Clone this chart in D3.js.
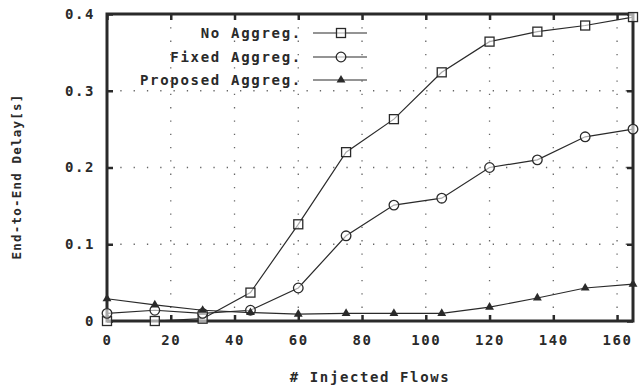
<!DOCTYPE html>
<html>
<head>
<meta charset="utf-8">
<script src="https://cdn.jsdelivr.net/npm/d3@7"></script>
<style>
  body { margin: 0; background: #fff; }
  text { font-family: "DejaVu Sans Mono", monospace; font-weight: bold; fill: #2a2a2a; }
</style>
</head>
<body>
<svg id="chart" width="643" height="389"></svg>
<script>
// data
const flows = [0, 15, 30, 45, 60, 75, 90, 105, 120, 135, 150, 165];
const noAggreg = [0.0, 0.0, 0.003, 0.037, 0.126, 0.220, 0.263, 0.324, 0.364, 0.377, 0.385, 0.396];
const fixedAggreg = [0.010, 0.014, 0.010, 0.014, 0.043, 0.111, 0.151, 0.160, 0.200, 0.210, 0.240, 0.250];
const proposedAggreg = [0.029, 0.021, 0.014, 0.011, 0.009, 0.010, 0.010, 0.010, 0.018, 0.030, 0.043, 0.048];
const seriesNames = ["No Aggreg.", "Fixed Aggreg.", "Proposed Aggreg."];
const markerTypes = ["square", "circle", "triangle"];
const xTicks = [0, 20, 40, 60, 80, 100, 120, 140, 160];
const yTicks = [0, 0.1, 0.2, 0.3, 0.4];

const series = [noAggreg, fixedAggreg, proposedAggreg].map((vals, i) => ({
  name: seriesNames[i],
  marker: markerTypes[i],
  points: vals.map((v, j) => ({ x: flows[j], y: v }))
}));

const margin = { top: 14, right: 10, bottom: 68, left: 107 };
const width = 643 - margin.left - margin.right;
const height = 389 - margin.top - margin.bottom;
const ink = "#2a2a2a";

const svg = d3.select("#chart");
const g = svg.append("g").attr("transform", `translate(${margin.left},${margin.top})`);

const x = d3.scaleLinear().domain([0, 165]).range([0, width]);
const y = d3.scaleLinear().domain([0, 0.4]).range([height, 0]);

// dotted grid
g.selectAll(".vgrid")
  .data(xTicks.filter(d => d > 0))
  .enter().append("line")
  .attr("x1", d => x(d)).attr("x2", d => x(d))
  .attr("y1", 0).attr("y2", height)
  .attr("stroke", "#666").attr("stroke-width", 1.3)
  .attr("stroke-dasharray", "1.3,12");

g.selectAll(".hgrid")
  .data(yTicks.filter(d => d > 0 && d < 0.4))
  .enter().append("line")
  .attr("x1", 0).attr("x2", width)
  .attr("y1", d => y(d)).attr("y2", d => y(d))
  .attr("stroke", "#666").attr("stroke-width", 1.3)
  .attr("stroke-dasharray", "1.3,12");

// axes with inward ticks
const xAxis = d3.axisBottom(x).tickValues(xTicks).tickSize(-6).tickPadding(14).tickFormat(d3.format("d"));
const yAxis = d3.axisLeft(y).tickValues(yTicks).tickSize(-6).tickPadding(12).tickFormat(d => d === 0 ? "0" : d3.format(".1f")(d));

const gx = g.append("g").attr("transform", `translate(0,${height})`).call(xAxis);
const gy = g.append("g").call(yAxis);
const gxTop = g.append("g").call(d3.axisTop(x).tickValues(xTicks).tickSize(-6).tickFormat(""));
const gyRight = g.append("g").attr("transform", `translate(${width},0)`)
  .call(d3.axisRight(y).tickValues(yTicks).tickSize(-6).tickFormat(""));

[gx, gy, gxTop, gyRight].forEach(a => {
  a.select(".domain").remove();
  a.selectAll(".tick line").attr("stroke", ink).attr("stroke-width", 2.5);
  a.selectAll(".tick text").style("font-size", "14px").style("letter-spacing", "1.6px").attr("fill", ink);
});

// frame
g.append("rect")
  .attr("x", 0).attr("y", 0).attr("width", width).attr("height", height)
  .attr("fill", "none").attr("stroke", ink).attr("stroke-width", 3);

// lines
const line = d3.line().x(d => x(d.x)).y(d => y(d.y));

function drawMarker(sel, type, cx, cy) {
  if (type === "square") {
    sel.append("rect").attr("x", cx - 4.5).attr("y", cy - 4.5).attr("width", 9).attr("height", 9)
      .attr("fill", "#fff").attr("fill-opacity", 0.6).attr("stroke", ink).attr("stroke-width", 1.3);
  } else if (type === "circle") {
    sel.append("circle").attr("cx", cx).attr("cy", cy).attr("r", 4.8)
      .attr("fill", "#fff").attr("fill-opacity", 0.6).attr("stroke", ink).attr("stroke-width", 1.3);
  } else {
    sel.append("path")
      .attr("d", d3.symbol().type(d3.symbolTriangle).size(34)())
      .attr("transform", `translate(${cx},${cy})`)
      .attr("fill", ink);
  }
}

series.forEach(s => {
  g.append("path").datum(s.points)
    .attr("d", line)
    .attr("fill", "none").attr("stroke", ink).attr("stroke-width", 1.2);
  s.points.forEach(p => drawMarker(g, s.marker, x(p.x), y(p.y)));
});

// legend
const legendY = [33, 57, 80];
series.forEach((s, i) => {
  const ly = legendY[i];
  svg.append("text")
    .attr("x", 302).attr("y", ly).attr("dy", "0.35em")
    .attr("text-anchor", "end")
    .style("font-size", "14px").style("letter-spacing", "1.7px")
    .text(s.name);
  svg.append("line")
    .attr("x1", 313).attr("x2", 367).attr("y1", ly).attr("y2", ly)
    .attr("stroke", ink).attr("stroke-width", 1.2);
  drawMarker(svg, s.marker, 341, ly);
});

// axis titles
svg.append("text")
  .attr("x", margin.left + width / 2).attr("y", 382)
  .attr("text-anchor", "middle")
  .style("font-size", "14px").style("letter-spacing", "1.6px")
  .text("# Injected Flows");

svg.append("text")
  .attr("transform", `translate(21,${margin.top + height / 2 + 9}) rotate(-90)`)
  .attr("text-anchor", "middle")
  .style("font-size", "12.5px").style("letter-spacing", "1.2px")
  .text("End-to-End Delay[s]");
</script>
</body>
</html>
